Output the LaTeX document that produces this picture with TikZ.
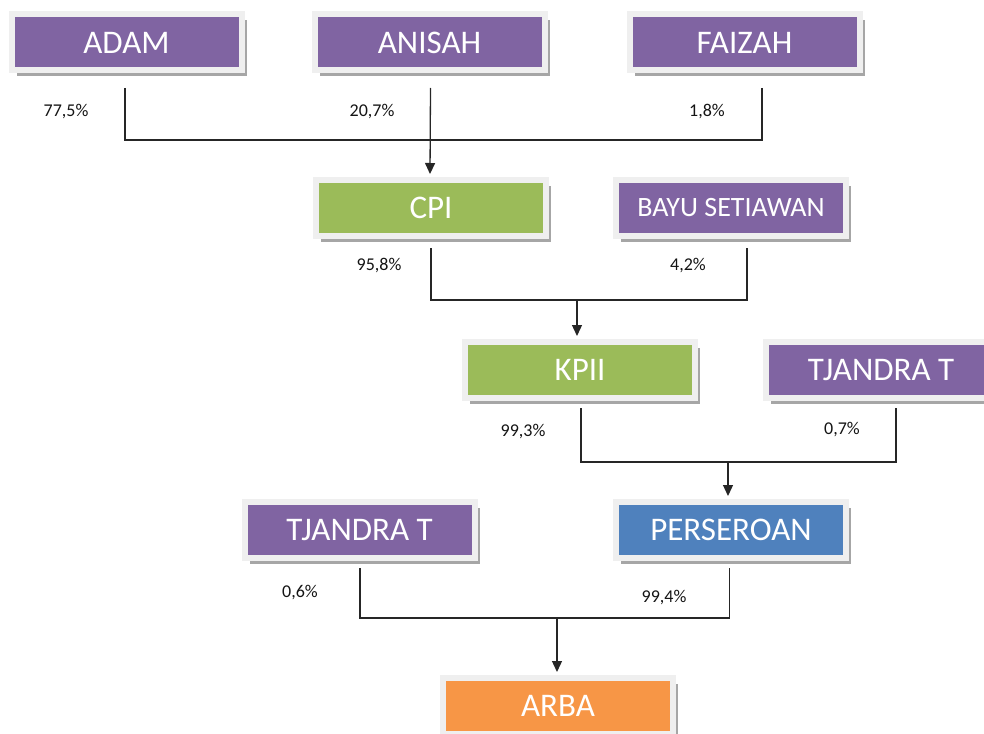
\documentclass[tikz,border=0pt]{standalone}
\usepackage{fontspec}
\setmainfont{Carlito}
\usetikzlibrary{shadows,arrows.meta,calc}
\definecolor{cpurple}{HTML}{8064A2}
\definecolor{cgreen}{HTML}{9BBB59}
\definecolor{cblue}{HTML}{4F81BD}
\definecolor{corange}{HTML}{F79646}
\definecolor{framegray}{HTML}{EFEFEF}
\definecolor{shadowgray}{HTML}{A6A6A6}
\definecolor{pcttext}{HTML}{141414}
\begin{document}
\begin{tikzpicture}[x=1pt,y=-1pt,
  orgbox/.style={fill=#1, draw=framegray, line width=6pt, minimum width=230pt,
    minimum height=56pt, inner sep=0pt, text=white,
    font=\fontsize{33}{33}\selectfont,
    drop shadow={shadow xshift=5pt, shadow yshift=-5.5pt, fill=shadowgray, opacity=1}},
  pct/.style={font=\fontsize{18}{18}\selectfont, text=pcttext, inner sep=0pt},
  conn/.style={line width=1.3pt, draw=black!85},
  arr/.style={conn, -{Triangle[width=10pt,length=11pt]}}]
\useasboundingbox (0,0) rectangle (984,733);

% level 1
\node[orgbox=cpurple] (ADAM) at (126.5,42.5) {ADAM};
\node[orgbox=cpurple] (ANISAH) at (429.5,42.5) {ANISAH};
\node[orgbox=cpurple] (FAIZAH) at (744.5,42.5) {FAIZAH};
% level 2
\node[orgbox=cgreen] (CPI) at (431,208) {CPI};
\node[orgbox=cpurple, font=\fontsize{28}{28}\selectfont] (BAYU) at (731,208) {BAYU SETIAWAN};
% level 3
\node[orgbox=cgreen] (KPII) at (580,370) {KPII};
\node[orgbox=cpurple] (TJR) at (881,370) {TJANDRA T};
% level 4
\node[orgbox=cpurple] (TJL) at (359.5,530) {TJANDRA T};
\node[orgbox=cblue] (PERS) at (731,530) {PERSEROAN};
% level 5
\node[orgbox=corange] (ARBA) at (558,706) {ARBA};

% percentages
\node[pct] (pA) at (66,112) {77,5\%};
\node[pct] (pB) at (372,112) {20,7\%};
\node[pct] (pC) at (707,112) {1,8\%};
\node[pct] (pD) at (379,266) {95,8\%};
\node[pct] (pE) at (688,266) {4,2\%};
\node[pct] (pF) at (523,432) {99,3\%};
\node[pct] (pG) at (842,430) {0,7\%};
\node[pct] (pH) at (300,593) {0,6\%};
\node[pct] (pI) at (664,598) {99,4\%};

% junctions
\coordinate (j1) at (430,140);
\coordinate (j2) at (577,300);
\coordinate (j3) at (728,462);
\coordinate (j4) at (557,618);

% connectors level 1 -> CPI
\draw[conn] ($(ADAM.south)+(-1.5,14.5)$) |- (j1);
\draw[conn] ($(FAIZAH.south)+(17.5,14.5)$) |- (j1);
\draw[arr] ($(ANISAH.south)+(1,14.5)$) -- ($(CPI.north)+(-1,-3)$);
% CPI, BAYU -> KPII
\draw[conn] ($(CPI.south)+(0,9)$) |- (j2);
\draw[conn] ($(BAYU.south)+(16,9)$) |- (j2);
\draw[arr] (j2) -- ($(KPII.north)+(-3,-3)$);
% KPII, TJR -> PERS
\draw[conn] ($(KPII.south)+(1,7)$) |- (j3);
\draw[conn] ($(TJR.south)+(15,7)$) |- (j3);
\draw[arr] (j3) -- ($(PERS.north)+(-3,-3)$);
% TJL, PERS -> ARBA
\draw[conn] ($(TJL.south)+(0.5,7)$) |- (j4);
\draw[conn] ($(PERS.south)+(-1.5,7)$) |- (j4);
\draw[arr] (j4) -- ($(ARBA.north)+(-1,-3)$);
\end{tikzpicture}
\end{document}
